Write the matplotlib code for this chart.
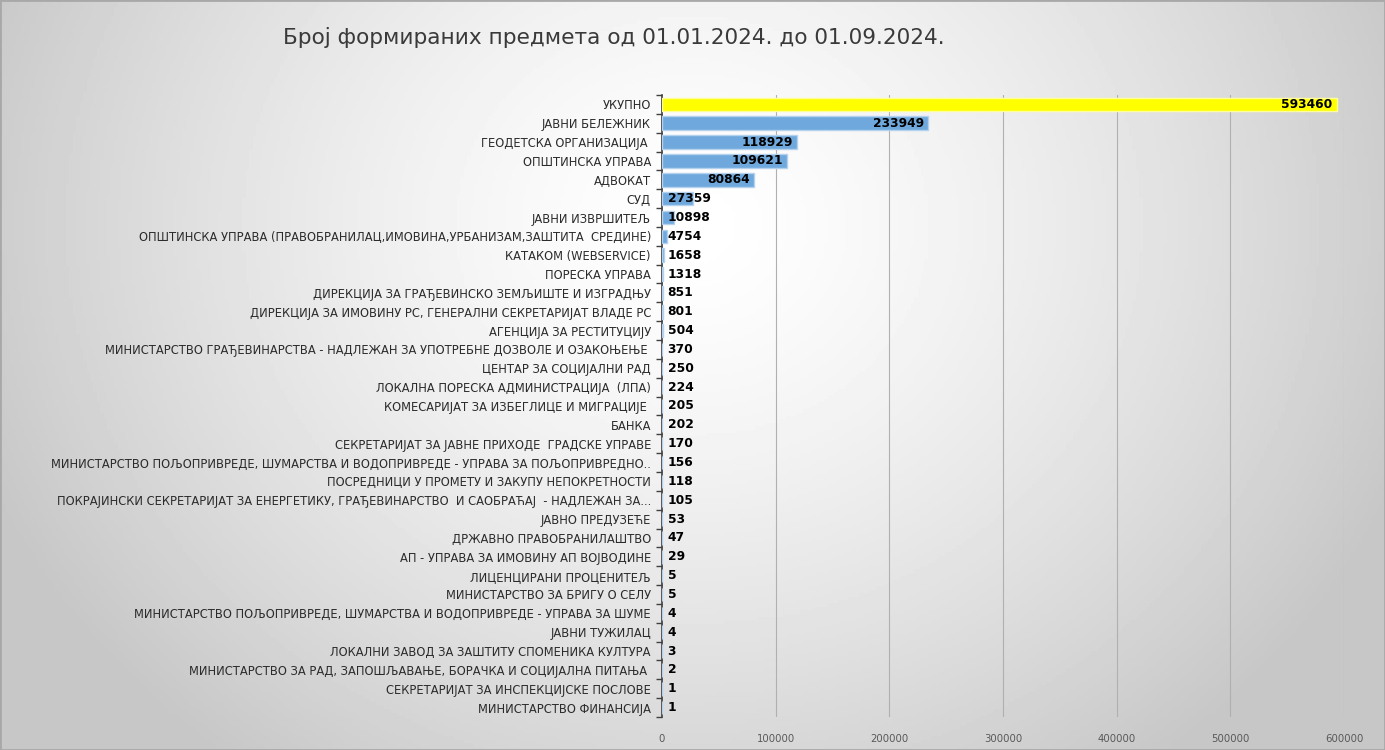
import numpy as np
import matplotlib
matplotlib.use('Agg')
import matplotlib.pyplot as plt

plt.rcParams['font.family'] = ['DejaVu Sans']

categories = [
    'УКУПНО',
    'ЈАВНИ БЕЛЕЖНИК',
    'ГЕОДЕТСКА ОРГАНИЗАЦИЈА ',
    'ОПШТИНСКА УПРАВА',
    'АДВОКАТ',
    'СУД',
    'ЈАВНИ ИЗВРШИТЕЉ',
    'ОПШТИНСКА УПРАВА (ПРАВОБРАНИЛАЦ,ИМОВИНА,УРБАНИЗАМ,ЗАШТИТА  СРЕДИНЕ)',
    'КАТАКОМ (WEBSERVICE)',
    'ПОРЕСКА УПРАВА',
    'ДИРЕКЦИЈА ЗА ГРАЂЕВИНСКО ЗЕМЉИШТЕ И ИЗГРАДЊУ',
    'ДИРЕКЦИЈА ЗА ИМОВИНУ РС, ГЕНЕРАЛНИ СЕКРЕТАРИЈАТ ВЛАДЕ РС',
    'АГЕНЦИЈА ЗА РЕСТИТУЦИЈУ',
    'МИНИСТАРСТВО ГРАЂЕВИНАРСТВА - НАДЛЕЖАН ЗА УПОТРЕБНЕ ДОЗВОЛЕ И ОЗАКОЊЕЊЕ ',
    'ЦЕНТАР ЗА СОЦИЈАЛНИ РАД',
    'ЛОКАЛНА ПОРЕСКА АДМИНИСТРАЦИЈА  (ЛПА)',
    'КОМЕСАРИЈАТ ЗА ИЗБЕГЛИЦЕ И МИГРАЦИЈЕ ',
    'БАНКА',
    'СЕКРЕТАРИЈАТ ЗА ЈАВНЕ ПРИХОДЕ  ГРАДСКЕ УПРАВЕ',
    'МИНИСТАРСТВО ПОЉОПРИВРЕДЕ, ШУМАРСТВА И ВОДОПРИВРЕДЕ - УПРАВА ЗА ПОЉОПРИВРЕДНО..',
    'ПОСРЕДНИЦИ У ПРОМЕТУ И ЗАКУПУ НЕПОКРЕТНОСТИ',
    'ПОКРАЈИНСКИ СЕКРЕТАРИЈАТ ЗА ЕНЕРГЕТИКУ, ГРАЂЕВИНАРСТВО  И САОБРАЋАЈ  - НАДЛЕЖАН ЗА...',
    'ЈАВНО ПРЕДУЗЕЋЕ',
    'ДРЖАВНО ПРАВОБРАНИЛАШТВО',
    'АП - УПРАВА ЗА ИМОВИНУ АП ВОЈВОДИНЕ',
    'ЛИЦЕНЦИРАНИ ПРОЦЕНИТЕЉ',
    'МИНИСТАРСТВО ЗА БРИГУ О СЕЛУ',
    'МИНИСТАРСТВО ПОЉОПРИВРЕДЕ, ШУМАРСТВА И ВОДОПРИВРЕДЕ - УПРАВА ЗА ШУМЕ',
    'ЈАВНИ ТУЖИЛАЦ',
    'ЛОКАЛНИ ЗАВОД ЗА ЗАШТИТУ СПОМЕНИКА КУЛТУРА',
    'МИНИСТАРСТВО ЗА РАД, ЗАПОШЉАВАЊЕ, БОРАЧКА И СОЦИЈАЛНА ПИТАЊА ',
    'СЕКРЕТАРИЈАТ ЗА ИНСПЕКЦИЈСКЕ ПОСЛОВЕ',
    'МИНИСТАРСТВО ФИНАНСИЈА',
]
values = [593460, 233949, 118929, 109621, 80864, 27359, 10898, 4754, 1658, 1318,
          851, 801, 504, 370, 250, 224, 205, 202, 170, 156, 118, 105, 53, 47, 29,
          5, 5, 4, 4, 3, 2, 1, 1]
x_ticks = [0, 100000, 200000, 300000, 400000, 500000, 600000]
title = 'Број формираних предмета од 01.01.2024. до 01.09.2024.'

fig = plt.figure(figsize=(13.85, 7.5), dpi=100)

# radial gray background, light near the top middle
bg = fig.add_axes([0, 0, 1, 1])
gx, gy = np.meshgrid(np.linspace(0, 1, 400), np.linspace(0, 1, 220))
r = np.sqrt(((gx - 0.5) / 0.55) ** 2 + ((gy - 0.7) / 0.9) ** 2)
shade = 1.0 - 0.22 * np.clip(r, 0, 1.0) ** 1.4
bg.imshow(shade, cmap='gray', vmin=0, vmax=1, aspect='auto',
          extent=[0, 1, 0, 1], origin='lower')
bg.set_xlim(0, 1)
bg.set_ylim(0, 1)
bg.axis('off')
bg.add_patch(plt.Rectangle((0, 0), 1, 1, fill=False, edgecolor='#a8a8a8',
                           linewidth=2, transform=bg.transAxes))

ax = fig.add_axes([662 / 1385, 1 - 717 / 750, (1344 - 662) / 1385, (717 - 95) / 750])
ax.patch.set_alpha(0)

y = np.arange(len(categories))
colors = ['#ffff00'] + ['#6fa8dc'] * (len(values) - 1)
edges = ['#ffff99'] + ['#b4d2ee'] * (len(values) - 1)
ax.barh(y, values, height=0.72, color=colors, edgecolor=edges, linewidth=1, zorder=3)

ax.set_xlim(0, 600000)
ax.set_ylim(len(categories) - 0.5, -0.5)
ax.set_xticks(x_ticks)
ax.set_xticklabels([str(t) for t in x_ticks], fontsize=7.3, color='#595959')
ax.tick_params(axis='x', length=0, pad=12)
ax.set_yticks(y)
ax.set_yticklabels(categories, fontsize=8.3, color='#2b2b2b')
ax.tick_params(axis='y', length=0, pad=8)
ax.set_yticks(np.arange(len(categories) + 1) - 0.5, minor=True)
ax.tick_params(axis='y', which='minor', length=4, width=1, color='#404040')
for t in x_ticks[1:]:
    ax.axvline(t, color='#b0b0b0', linewidth=0.8, zorder=1)
for s in ['top', 'right', 'bottom']:
    ax.spines[s].set_visible(False)
ax.spines['left'].set_color('#404040')
ax.spines['left'].set_linewidth(1.2)

# value labels: inside end when they fit, otherwise near the base
for i, v in enumerate(values):
    if v > 60000:
        ax.text(v - 3500, i, str(v), ha='right', va='center', fontsize=8.8,
                fontweight='bold', color='black', zorder=4)
    else:
        ax.text(5000, i, str(v), ha='left', va='center', fontsize=8.8,
                fontweight='bold', color='black', zorder=4)

fig.text(283 / 1385, 1 - 38 / 750, title, ha='left', va='center', fontsize=15.6,
         color='#3a3a3a')

fig.savefig('out.png', dpi=100)
